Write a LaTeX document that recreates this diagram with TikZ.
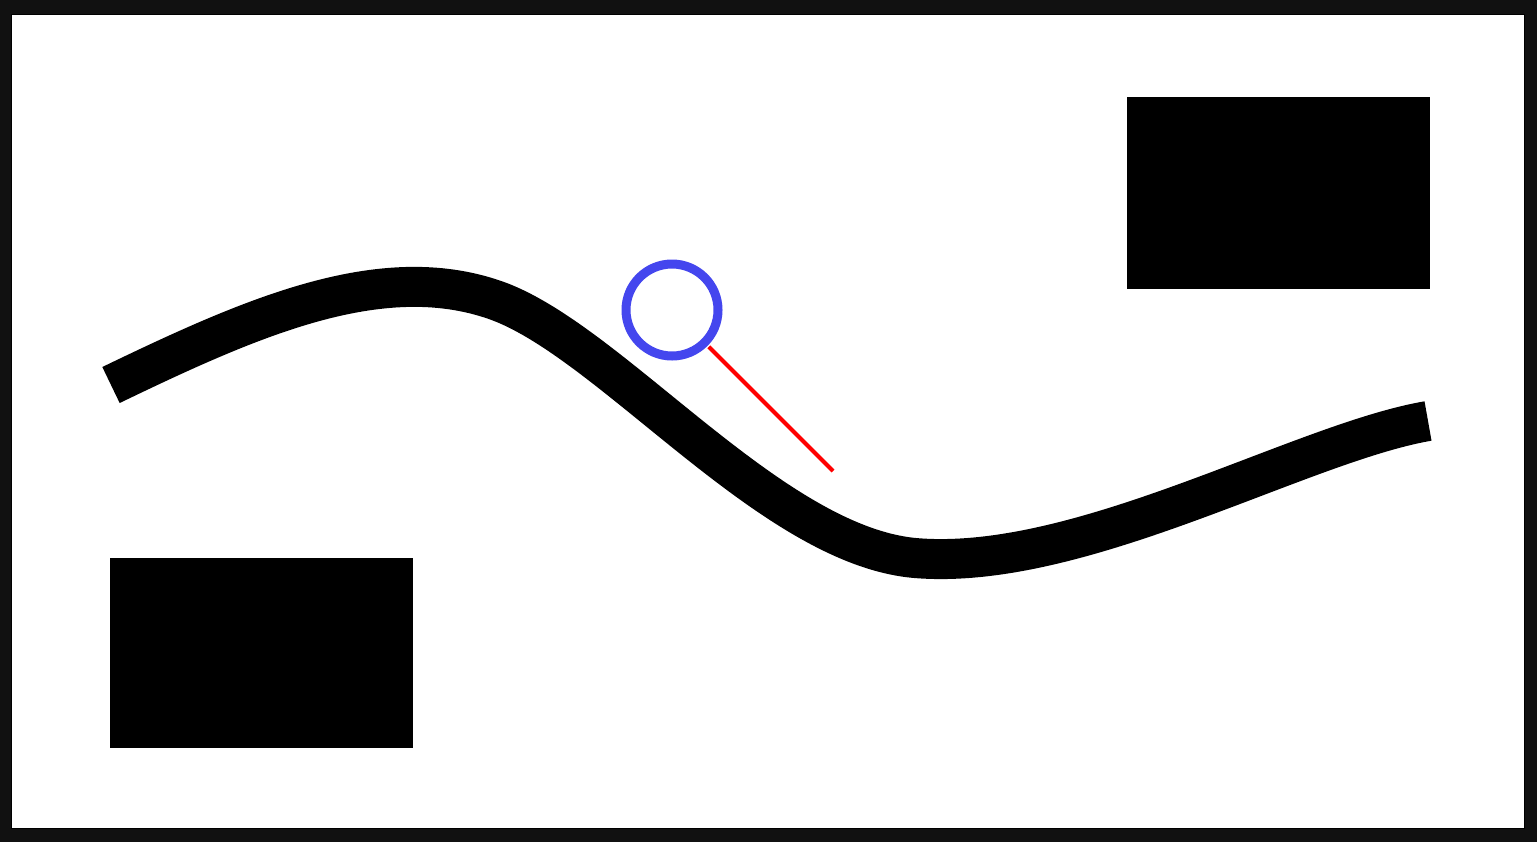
\documentclass[tikz,border=0pt]{standalone}
\usetikzlibrary{positioning}
\definecolor{moldura}{HTML}{111111}
\definecolor{azul}{HTML}{4446EE}
\begin{document}
\begin{tikzpicture}[x=0.02cm, y=-0.02cm] %Início do desenho, 1 unidade = 1 pixel
						%Moldura
					\fill[moldura] (0,0) rectangle (1537,842);
					\filldraw[fill=white, draw=black, line width=0.03cm] (11.5,14.5) rectangle (1524.5,828.5);
					\useasboundingbox (0,0) rectangle (1537,842);
						%Retângulos
					\fill[black] (1127,97) rectangle (1430,289); %Retângulo superior
					\fill[black] (110,558) rectangle (413,748); %Retângulo inferior
						%Curva
					\draw[line width=0.8cm, line cap=butt] (111,385) .. controls (250,318) and (380,260) .. (495,300) .. controls (610,340) and (770,545) .. (915,558) .. controls (1080,572) and (1300,443) .. (1428,421);
						%Círculo e reta
					\coordinate (centro) at (672,310);
					\coordinate (fim) at (833,471);
					\draw[red, line width=0.08cm] (centro) ++(45:52) -- (fim);
					\draw[azul, line width=0.18cm] (centro) circle (46);
				\end{tikzpicture}
\end{document}
